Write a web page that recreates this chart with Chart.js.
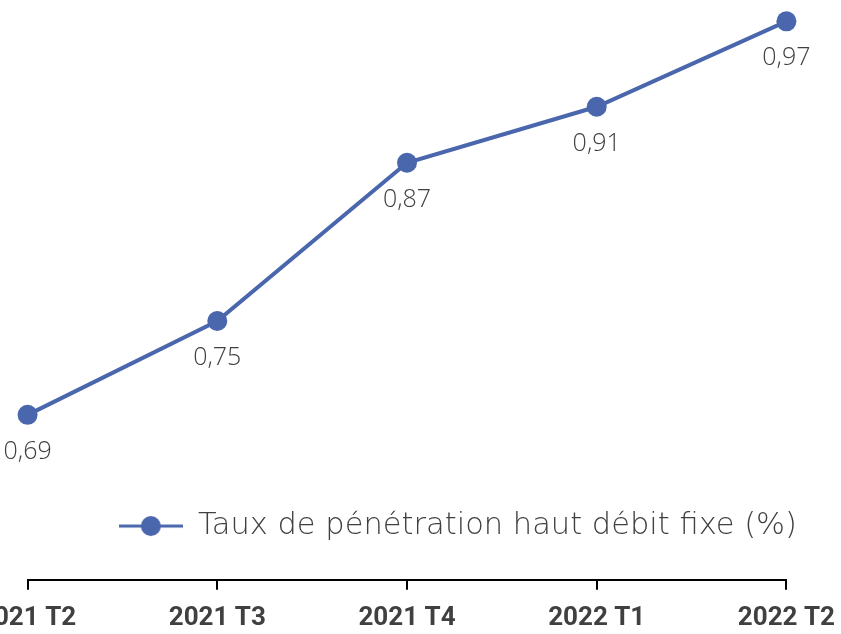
<!DOCTYPE html>
<html>
<head>
<meta charset="utf-8">
<script src="https://cdn.jsdelivr.net/npm/chart.js@4/dist/chart.umd.min.js"></script>
<style>
    html, body { margin: 0; padding: 0; background: #fff; overflow: hidden; }
    #wrap { position: absolute; left: -34px; top: 0; width: 882px; height: 634px; }
</style>
</head>
<body>
<div id="wrap"><canvas id="chart"></canvas></div>
<script>
const quarters = ['2021 T2', '2021 T3', '2021 T4', '2022 T1', '2022 T2'];
const penetration = [0.686, 0.753, 0.866, 0.906, 0.967];
const seriesLabel = 'Taux de pénétration haut débit fixe (%)';

const lineColor = '#4A66AC';
const textColor = '#404040';

// legend marker: line with a dot in the middle
function _createLegendMarker() {
    let c = document.createElement('canvas');
    c.width = 64;
    c.height = 22;
    let ctx = c.getContext('2d');
    ctx.strokeStyle = lineColor;
    ctx.lineWidth = 3;
    ctx.beginPath();
    ctx.moveTo(0, 11);
    ctx.lineTo(64, 11);
    ctx.stroke();
    ctx.fillStyle = lineColor;
    ctx.beginPath();
    ctx.arc(32, 11, 10, 0, Math.PI * 2);
    ctx.fill();
    return c;
}

const valueLabels = {
    id: 'valueLabels',
    afterDatasetsDraw(chart) {
        let ctx = chart.ctx;
        let meta = chart.getDatasetMeta(0);
        ctx.save();
        ctx.font = '300 25px "Open Sans"';
        ctx.fillStyle = textColor;
        ctx.textAlign = 'center';
        ctx.textBaseline = 'middle';
        meta.data.forEach((pt, i) => {
            let text = penetration[i].toFixed(2).replace('.', ',');
            ctx.fillText(text, pt.x, pt.y + 37);
        });
        ctx.restore();
    }
};

// keep the legend above the axis line with some room under it
const legendGap = {
    id: 'legendGap',
    afterInit(chart) {
        let legend = chart.legend;
        let fit = legend.fit.bind(legend);
        legend.fit = function() {
            fit();
            this.height += 28.5;
        };
    }
};

new Chart(document.getElementById('chart'), {
    type: 'line',
    data: {
        labels: quarters,
        datasets: [{
            label: seriesLabel,
            data: penetration,
            borderColor: lineColor,
            backgroundColor: lineColor,
            borderWidth: 4,
            pointRadius: 10,
            pointHoverRadius: 10,
            pointBackgroundColor: lineColor,
            pointBorderWidth: 0,
            tension: 0,
            clip: false
        }]
    },
    options: {
        responsive: true,
        maintainAspectRatio: false,
        animation: false,
        layout: {
            padding: { left: 0, right: 51, top: 0, bottom: -13 }
        },
        scales: {
            x: {
                weight: 2000,
                offset: false,
                border: { display: true, color: '#000', width: 2 },
                grid: {
                    display: true,
                    drawOnChartArea: false,
                    drawTicks: true,
                    tickLength: 10,
                    color: '#000',
                    lineWidth: 2
                },
                ticks: {
                    autoSkip: false,
                    maxRotation: 0,
                    padding: 13,
                    color: textColor,
                    font: { family: 'Roboto', weight: 'bold', size: 26 }
                }
            },
            y: {
                display: false,
                min: 0.6175,
                max: 0.9751
            }
        },
        plugins: {
            legend: {
                position: 'bottom',
                align: 'end',
                labels: {
                    usePointStyle: true,
                    pointStyle: _createLegendMarker(),
                    pointStyleWidth: 64,
                    padding: 0,
                    color: textColor,
                    font: { family: 'DejaVu Sans', weight: '200', size: 30.5 }
                }
            },
            tooltip: { enabled: false }
        }
    },
    plugins: [valueLabels, legendGap]
});
</script>
</body>
</html>
